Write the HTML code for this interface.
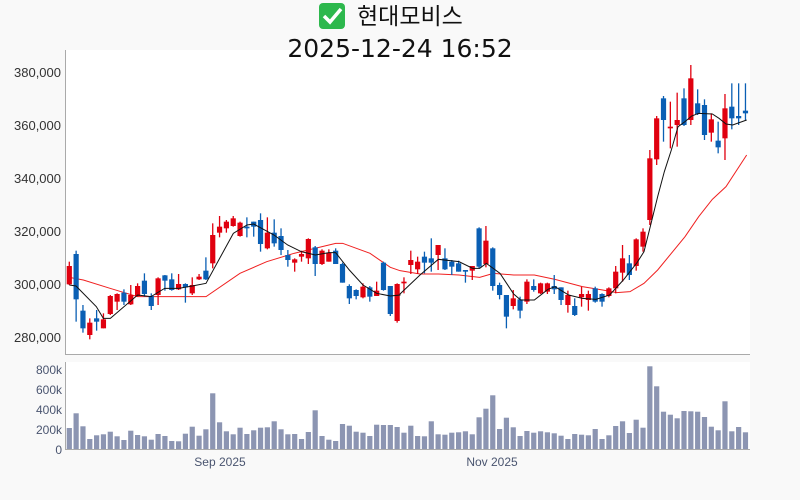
<!DOCTYPE html>
<html><head><meta charset="utf-8">
<style>
html,body{margin:0;padding:0;background:#f9f9f9;width:800px;height:500px;overflow:hidden;font-family:"Liberation Sans","Noto Sans CJK KR",sans-serif;}
</style></head>
<body>
<svg id="s" width="800" height="500" xmlns="http://www.w3.org/2000/svg">
<rect x="0" y="0" width="800" height="500" fill="#f9f9f9"/>
<rect x="65" y="50" width="685" height="304" fill="#fff"/>
<rect x="65" y="362" width="685" height="88" fill="#fff"/>
<line x1="65.5" y1="50" x2="65.5" y2="354" stroke="#aaa"/>
<line x1="65" y1="354.5" x2="750" y2="354.5" stroke="#aaa"/>
<line x1="65.5" y1="362" x2="65.5" y2="450" stroke="#aaa"/>
<line x1="65" y1="449.5" x2="750" y2="449.5" stroke="#aaa"/>
<rect x="319" y="3" width="26" height="26" rx="4" fill="#2db84d"/>
<path d="M324 16 l6 6 l11 -13" stroke="#fff" stroke-width="3.5" fill="none"/>
<text x="357" y="24" font-size="23" fill="#111" font-family="'Liberation Sans','Noto Sans CJK KR',sans-serif">현대모비스</text>
<text x="400" y="57" font-size="25" fill="#111" text-anchor="middle" font-family="'DejaVu Sans',sans-serif">2025-12-24 16:52</text>
<g font-size="13" fill="#333" text-anchor="end">
<text x="61" y="77">380,000</text><text x="61" y="130">360,000</text><text x="61" y="183">340,000</text><text x="61" y="236">320,000</text><text x="61" y="289">300,000</text><text x="61" y="342">280,000</text>
</g>
<g font-size="12" fill="#4a5570" text-anchor="end">
<text x="62" y="374">800k</text><text x="62" y="394">600k</text><text x="62" y="414">400k</text><text x="62" y="434">200k</text><text x="62" y="454">0</text>
</g>
<g font-size="12" fill="#4a5570" text-anchor="middle">
<text x="220" y="466">Sep 2025</text><text x="492" y="466">Nov 2025</text>
</g>
<g id="g"></g>
</svg>
<script>
var C=[
['r',665,678,733,735],['b',632,642,778,845],['b',795,812,865,878],['r',835,848,885,898],['b',810,835,845,872],['r',820,838,865,865],['r',765,768,822,825],['r',760,762,785,810],['b',748,758,785,795],['r',735,765,793,795],
['r',730,738,768,770],['b',700,722,762,770],['b',760,768,798,810],['r',712,715,765,795],['b',705,706,722,752],['b',700,718,750,752],['r',702,732,748,750],['b',730,732,742,788],['r',712,735,760,765],['r',702,710,718,720],
['b',652,692,718,720],['r',550,585,670,685],['r',528,560,578,592],['r',540,545,565,578],['r',528,535,558,560],['r',545,548,588,590],['b',532,560,565,592],['b',545,545,560,590],['b',520,540,612,635],['r',532,578,625,628],
['b',538,578,610,620],['b',565,588,630,645],['b',630,645,660,680],['r',655,658,668,695],['r',632,642,650,665],['r',595,597,655,672],['b',618,622,672,708],['r',628,632,672,675],['r',628,638,665,665],['b',625,632,672,672],
['b',668,672,728,728],['b',733,738,775,792],['b',748,750,768,778],['r',730,740,772,775],['b',738,742,770,785],['r',725,752,768,768],['b',665,668,750,752],['b',738,738,822,828],['r',730,732,843,848],['r',712,725,730,760],
['r',632,660,675,702],['r',650,665,688,702],['b',635,650,668,700],['b',595,655,668,695],['r',615,615,645,690],['b',625,655,688,690],['b',660,665,680,705],['b',662,670,695,695],['b',690,690,695,728],['r',678,678,692,720],
['b',562,565,680,685],['r',558,602,672,682],['b',622,625,738,752],['b',728,735,765,778],['b',765,765,830,865],['r',750,775,798,808],['b',770,778,812,835],['r',718,725,785,792],['b',718,738,750,755],['r',728,730,760,762],
['r',728,730,755,762],['b',705,738,748,762],['b',742,742,780,795],['r',752,765,795,818],['b',775,798,825,828],['r',740,762,772,800],['r',752,762,780,812],['b',740,745,785,788],['b',760,762,785,800],['r',742,745,768,772],
['r',678,695,745,760],['r',615,655,698,725],['b',645,670,705,720],['r',595,598,678,692],['r',565,575,620,635],['r',330,355,540,555],['r',228,235,358,375],['b',168,175,240,305],['r',185,260,265,325],['r',158,240,255,320],
['b',145,175,255,258],['r',75,115,240,255],['b',148,190,222,225],['b',178,195,285,300],['r',220,238,278,305],['b',245,302,322,340],['r',162,205,295,360],['b',130,200,235,268],['b',130,228,235,255],['b',130,212,220,242]];
var V=[210,357,227,100,137,147,173,127,90,183,140,127,93,150,130,80,77,153,223,133,197,557,267,177,147,213,150,187,213,217,277,197,147,150,100,170,387,130,93,80,250,233,173,163,130,243,240,240,220,163,233,130,127,277,147,143,163,167,177,147,317,403,537,200,313,217,130,180,163,177,167,157,133,100,150,143,137,200,100,137,230,277,160,293,213,827,627,373,343,307,380,377,373,320,223,187,477,177,220,167];
var s='';
function Y(z){return 40+z/3;}
for(var i=0;i<C.length;i++){
 var x=69.3+i*6.83,c=C[i],col=c[0]=='r'?'#e0000f':'#0a5fb4';
 s+='<line x1="'+x+'" x2="'+x+'" y1="'+Y(c[1])+'" y2="'+Y(c[4])+'" stroke="'+col+'" stroke-width="1.3"/>';
 var h=Math.max(1.2,Y(c[3])-Y(c[2]));
 s+='<rect x="'+(x-2.6)+'" y="'+Y(c[2])+'" width="5.2" height="'+h+'" fill="'+col+'"/>';
 var vh=V[i]/10;
 s+='<rect x="'+(x-2.6)+'" y="'+(449-vh)+'" width="5.2" height="'+vh+'" fill="#8c95b2"/>';
}
var B1=[[208,735],[228,738],[289,800],[310,835],[331,835],[413,765],[453,770],[494,745],[536,745],[577,738],[618,730],[700,580],[741,555],[761,552],[822,585],[863,615],[904,635],[946,645],[987,638],[1007,638],[1048,690],[1089,735],[1130,760],[1171,768],[1200,765]];
var B2=[[0,762],[60,705],[115,658],[177,665],[218,685],[239,685],[259,670],[300,700],[341,762],[362,780],[403,780],[444,748],[465,740],[506,765],[547,775],[588,778],[629,765],[670,720],[711,668],[732,635],[752,555],[773,470],[793,395],[814,330],[834,260],[855,245],[875,228],[896,220],[937,222],[957,235],[978,252],[998,255],[1040,240]];
var R1=[[208,712],[250,720],[330,745],[413,770],[494,770],[618,770],[720,700],[800,665],[882,640],[1007,610],[1028,610],[1110,640],[1171,682],[1200,692]];
var R2=[[0,692],[60,702],[115,702],[177,705],[239,712],[280,700],[341,705],[403,705],[465,718],[547,740],[608,750],[650,758],[690,755],[732,730],[773,690],[855,590],[896,530],[937,478],[978,440],[1040,345]];
function pts(a,b){var p=[];a.forEach(function(q){p.push((q[0]/3)+','+Y(q[1]));});b.forEach(function(q){p.push((400+q[0]/3)+','+Y(q[1]));});return p.join(' ');}
s='<polyline points="'+pts(R1,R2)+'" fill="none" stroke="#f02020" stroke-width="1"/>'+s;
s+='<polyline points="'+pts(B1,B2)+'" fill="none" stroke="#111" stroke-width="1"/>';
document.getElementById('g').innerHTML=s;
</script>
</body></html>
